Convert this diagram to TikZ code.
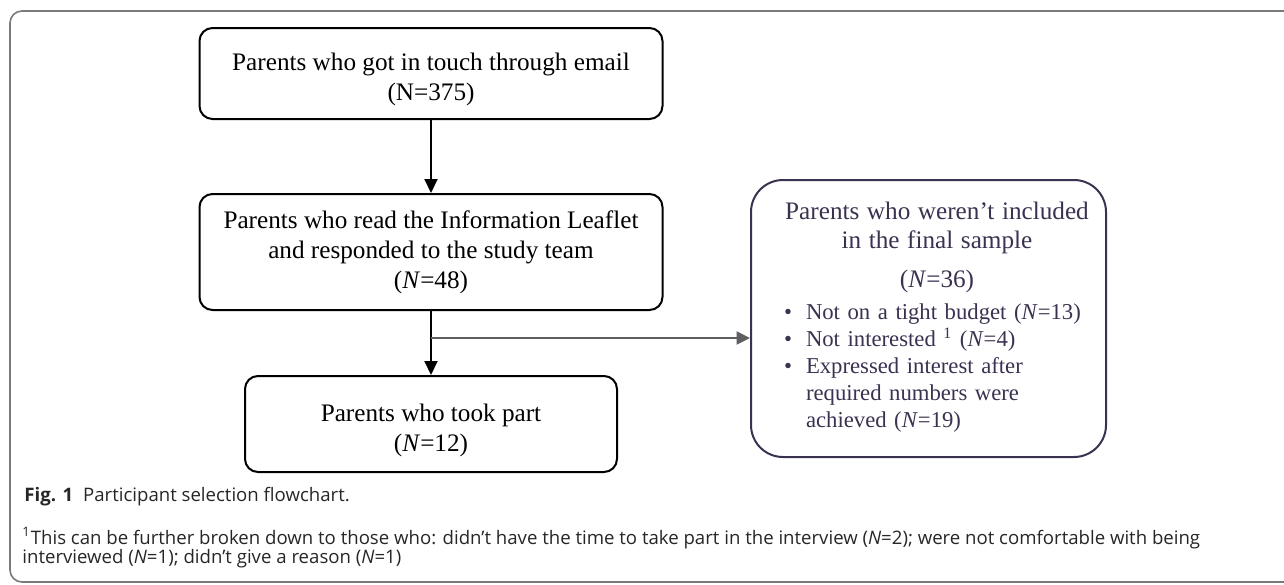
\documentclass[tikz,border=0pt]{standalone}
\usepackage{fontspec}
\setmainfont{Liberation Serif}
\newfontfamily\capfont{Open Sans}
\usepackage{tikz}
\usetikzlibrary{arrows.meta}

\definecolor{framegray}{HTML}{7A7A7A}
\definecolor{arrowgray}{HTML}{5F5F5F}
\definecolor{exclpurple}{HTML}{3B3150}

\newcommand{\exclitem}[1]{\par\hangindent=11pt\hangafter=1\noindent\makebox[11pt][l]{\textbullet}#1}
\newcommand{\topgap}{\rule{0pt}{14.8pt}}

\begin{document}
\begin{tikzpicture}[x=0.5pt,y=-0.5pt,
		flowbox/.style={draw=black, line width=1pt, rounded corners=6.5pt, align=center, inner sep=0pt, font=\fontsize{12.6}{15}\selectfont},
		exclbox/.style={draw=exclpurple, line width=1pt, rounded corners=16pt, inner sep=0pt},
		excltext/.style={text=exclpurple, text width=153pt, align=left, inner sep=0pt, font=\fontsize{11.35}{13.5}\selectfont},
		flowarrow/.style={line width=1pt, -{Triangle[length=7pt,width=6.5pt]}},
		exclarrow/.style={draw=arrowgray, line width=1pt, -{Triangle[length=6.7pt,width=6.5pt]}},
		notetext/.style={anchor=west, inner sep=0pt, text=black!85, font=\capfont\fontsize{9.3}{10.5}\selectfont}]

	\clip (0,0) rectangle (1284,584);
	\draw[framegray, line width=0.8pt, rounded corners=6pt] (10,11) rectangle (1330,582);

			\node[flowbox, minimum width=231.5pt, minimum height=45.5pt] (email) at (431,73.5)
					{\topgap Parents who got in touch through email\\(N=375)};
			\node[flowbox, minimum width=231.5pt, minimum height=58pt] (leaflet) at (431,252)
					{Parents who read the Information Leaflet\\and responded to the study team\\(\textit{N}=48)};
			\node[flowbox, minimum width=186pt, minimum height=48pt] (part) at (431,424)
					{\topgap Parents who took part\\(\textit{N}=12)};

			\node[exclbox, minimum width=177.5pt, minimum height=138.5pt] (excl) at (928.5,318.5) {};
			\node[excltext] (excltext) at (937,317) {%
					{\centering\fontsize{12.6}{14.5}\selectfont Parents who weren’t included\\in the final sample\par}
					\vspace{5pt}
					{\centering\fontsize{12.6}{14.5}\selectfont (\textit{N}=36)\par}
					\vspace{2.5pt}
					{\raggedright
					\exclitem{Not on a tight budget (\textit{N}=13)}
					\exclitem{Not interested \textsuperscript{1} (\textit{N}=4)}
					\exclitem{Expressed interest after required numbers were achieved (\textit{N}=19)}\par}};

			\draw[flowarrow] (email) -- (leaflet);
			\draw[flowarrow] (leaflet) -- (part);
			\coordinate (split) at ([yshift=-13.5pt]leaflet.south);
			\draw[exclarrow] (split) -- (split -| excl.west);

			%\draw[thick] (leaflet.south) -- (split);
			\node[notetext] (caption) at (24,497)
					{\textbf{Fig. 1}\hspace{5pt}Participant selection flowchart.};
			\node[notetext] (note1) at (22,538)
					{\textsuperscript{1}This can be further broken down to those who: didn’t have the time to take part in the interview (\textit{N}=2); were not comfortable with being};
			\node[notetext] (note2) at (22,559)
					{interviewed (\textit{N}=1); didn’t give a reason (\textit{N}=1)};

\end{tikzpicture}
\end{document}
